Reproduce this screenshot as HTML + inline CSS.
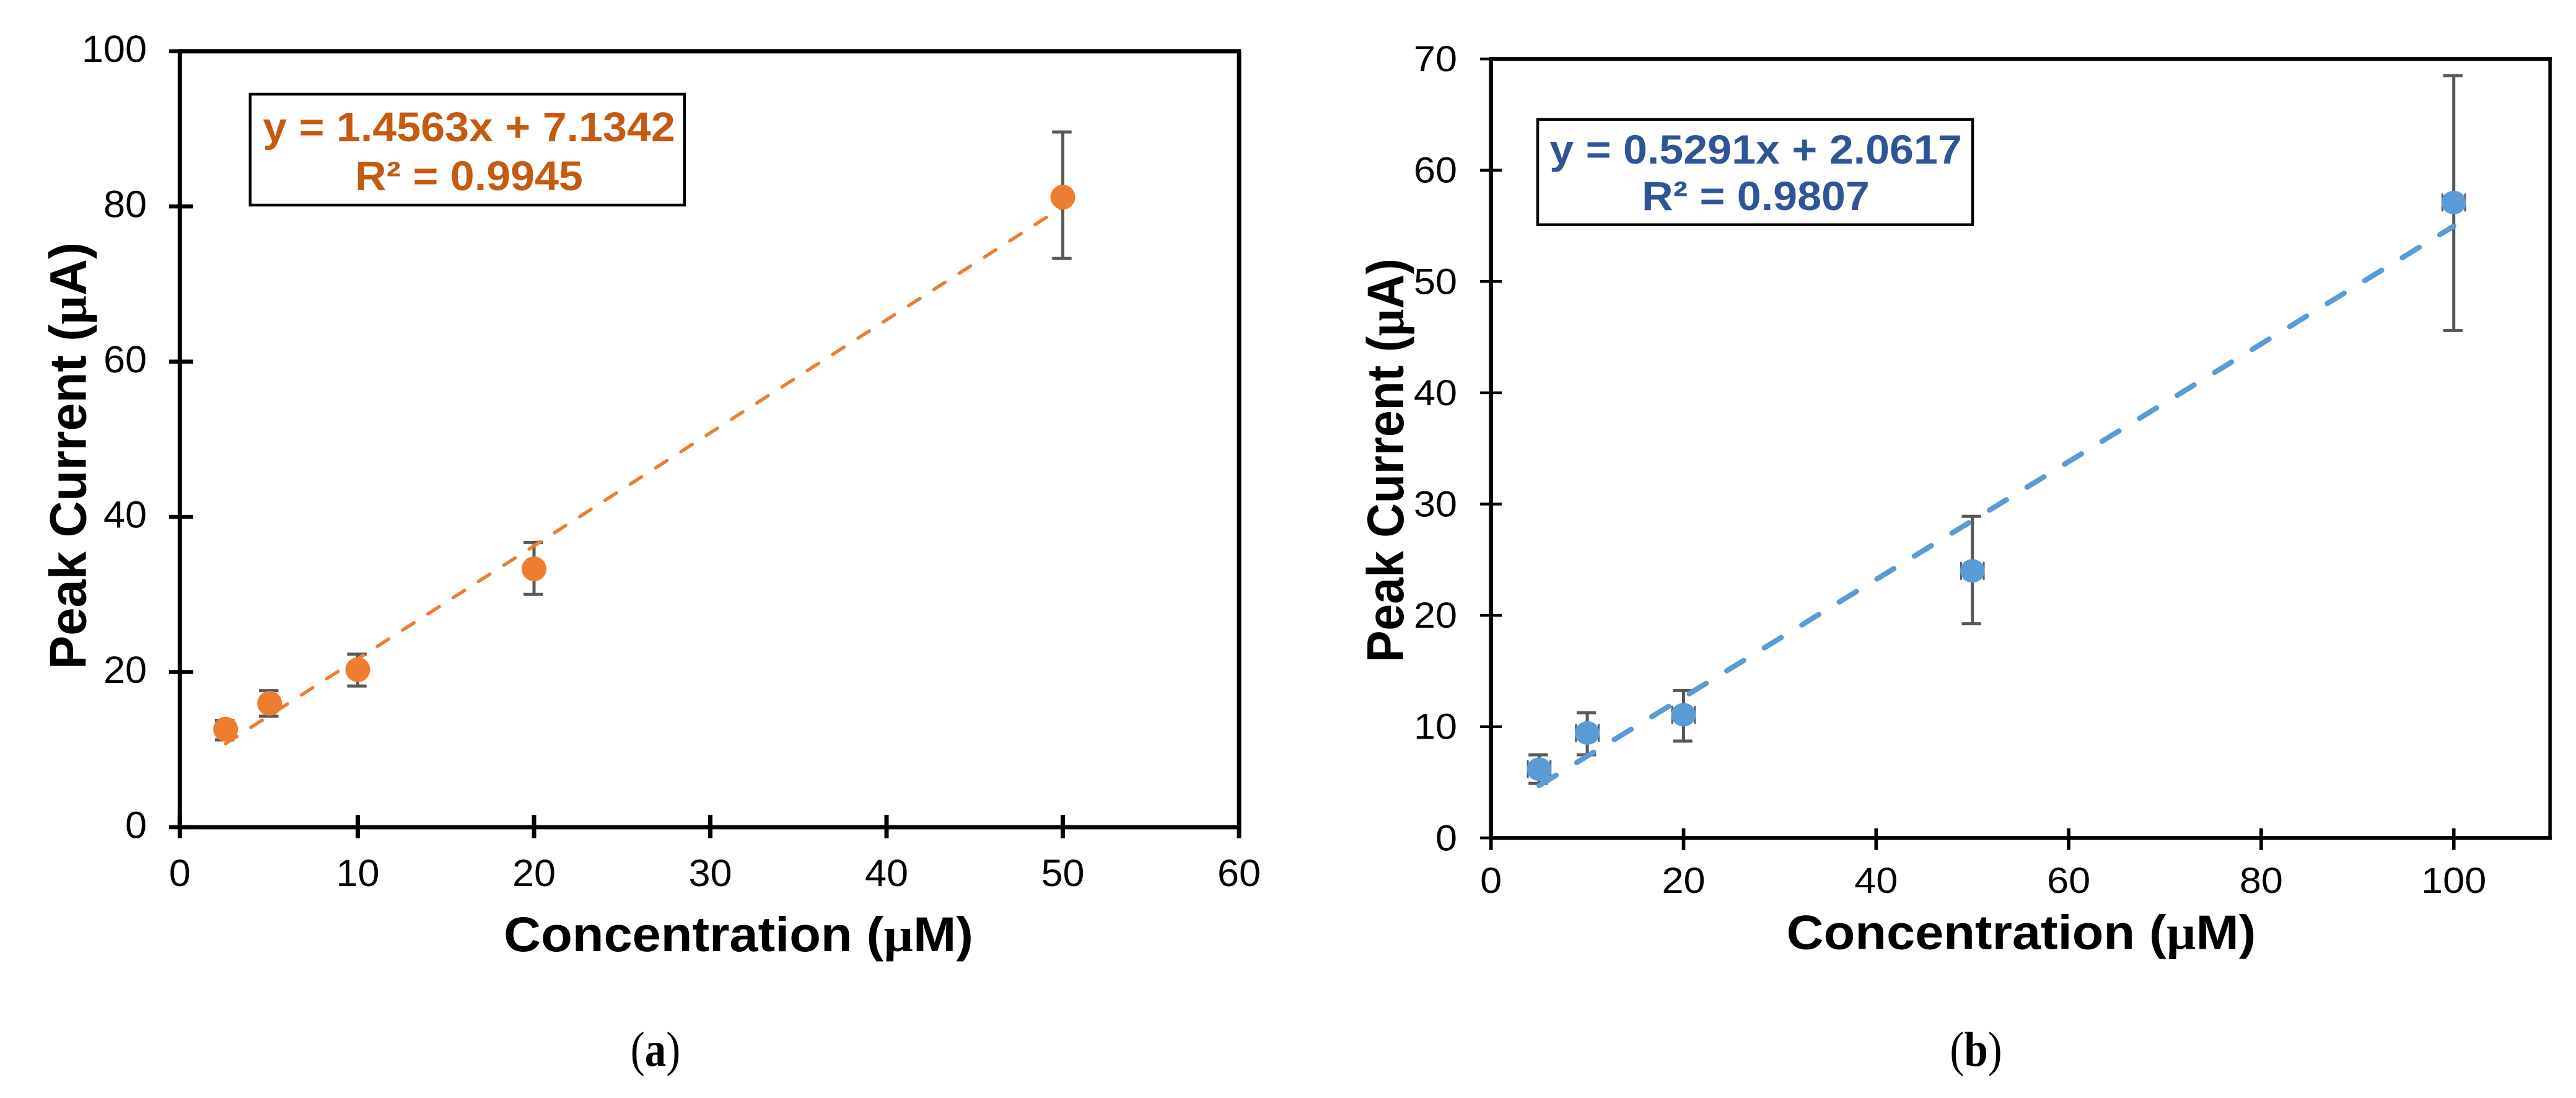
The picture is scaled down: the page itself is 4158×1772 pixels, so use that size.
<!DOCTYPE html>
<html lang="en">
<head>
<meta charset="utf-8">
<title>Peak current versus concentration calibration charts</title>
<style>
  html, body { margin: 0; padding: 0; background: #fff; }
  svg { display: block; }
  text { font-family: "Liberation Sans", Arial, sans-serif; }
  .serif { font-family: "Liberation Serif", "Times New Roman", serif; }
</style>
</head>
<body>
<svg id="figure" xmlns="http://www.w3.org/2000/svg" width="4158" height="1772" viewBox="0 0 4158 1772">
  <rect x="0" y="0" width="4158" height="1772" fill="#ffffff"/>

  <g id="panel-a"></g>
  <g id="panel-b"></g>

  <g>
    <rect x="403.8" y="152" width="701" height="179" fill="#ffffff" stroke="#000000" stroke-width="4.5"/>
    <text transform="translate(757 228) scale(1 0.95)" text-anchor="middle" font-size="70" font-weight="700" fill="#C55A11">y = 1.4563x + 7.1342</text>
    <text transform="translate(757 307) scale(1 0.95)" text-anchor="middle" font-size="70" font-weight="700" fill="#C55A11">R² = 0.9945</text>
  </g>
  <g>
    <rect x="2482" y="192.7" width="702" height="170" fill="#ffffff" stroke="#000000" stroke-width="4.5"/>
    <text transform="translate(2834 264) scale(1 0.94)" text-anchor="middle" font-size="70" font-weight="700" fill="#2F5597">y = 0.5291x + 2.0617</text>
    <text transform="translate(2834 339) scale(1 0.94)" text-anchor="middle" font-size="70" font-weight="700" fill="#2F5597">R² = 0.9807</text>
  </g>

  <text transform="translate(1192 1535) scale(1 0.95)" text-anchor="middle" font-size="83" font-weight="700" fill="#000">Concentration (<tspan class="serif" font-weight="700">µ</tspan>M)</text>
  <text transform="translate(138.3 735.5) rotate(-90) scale(1 1.03)" text-anchor="middle" font-size="81.4" font-weight="700" fill="#000">Peak Current (<tspan class="serif" font-weight="700">µ</tspan>A)</text>
  <text transform="translate(3262.5 1531.7) scale(1 0.94)" text-anchor="middle" font-size="83" font-weight="700" fill="#000">Concentration (<tspan class="serif" font-weight="700">µ</tspan>M)</text>
  <text transform="translate(2265 743) rotate(-90) scale(1 1.087)" text-anchor="middle" font-size="77" font-weight="700" fill="#000">Peak Current (<tspan class="serif" font-weight="700">µ</tspan>A)</text>

  <text class="serif" transform="translate(1058 1720) scale(1 1.15)" text-anchor="middle" font-size="69" fill="#000">(<tspan font-weight="700">a</tspan>)</text>
  <text class="serif" transform="translate(3189.5 1720) scale(1 1.15)" text-anchor="middle" font-size="69" fill="#000">(<tspan font-weight="700">b</tspan>)</text>
</svg>

<script>
// Panel (a) data
const concentrationA = [2.5, 5, 10, 20, 50];
const currentA = [12.64, 15.97, 20.3, 33.3, 81.2];
const errorPlusA = [1.13, 1.63, 2.0, 3.4, 8.4];
const errorMinusA = [1.38, 1.67, 2.1, 3.3, 7.9];
const xTicksA = [0, 10, 20, 30, 40, 50, 60];
const yTicksA = [0, 20, 40, 60, 80, 100];
const slopeA = 1.4563;
const interceptA = 7.1342;

// Panel (b) data
const concentrationB = [5, 10, 20, 50, 100];
const currentB = [6.18, 9.43, 11.07, 24, 57.1];
const errorPlusB = [1.29, 1.82, 2.18, 4.9, 11.4];
const errorMinusB = [1.28, 1.96, 2.37, 4.75, 11.5];
const xErrorB = [1.18, 1.18, 1.18, 1.18, 1.18];
const xTicksB = [0, 20, 40, 60, 80, 100];
const yTicksB = [0, 10, 20, 30, 40, 50, 60, 70];
const slopeB = 0.5291;
const interceptB = 2.0617;

const SVG_NS = 'http://www.w3.org/2000/svg';

function shape(parent, tag, props, name) {
  const el = document.createElementNS(SVG_NS, tag);
  Object.keys(props).forEach(function (k) { el.setAttribute(k, props[k]); });
  
  
  parent.appendChild(el);
  return el;
}

function hLine(parent, x1, x2, y, w, color, name) {
  return shape(parent, 'line', { x1: x1, x2: x2, y1: y, y2: y, stroke: color, 'stroke-width': w }, name);
}

function vLine(parent, x, y1, y2, w, color, name) {
  return shape(parent, 'line', { x1: x, x2: x, y1: y1, y2: y2, stroke: color, 'stroke-width': w }, name);
}

function drawPanel(opts) {
  const g = document.getElementById(opts.id);
  const xPos = function (v) { return opts.x0 + v * opts.xScale; };
  const yPos = function (v) { return opts.y0 - v * opts.yScale; };
  const frameRight = xPos(opts.xLimit);
  const frameTop = yPos(opts.yTicks[opts.yTicks.length - 1]);
  const frameBottom = yPos(0);

  // frame
  vLine(g, opts.frameLeft, frameTop, frameBottom, opts.spineW, '#000', 'y-axis-line');
  vLine(g, frameRight, frameTop, frameBottom, opts.rightW, '#000', 'right-border-line');
  hLine(g, opts.frameLeft - 3, frameRight + 3, frameTop, opts.topW, '#000', 'top-border-line');
  hLine(g, opts.frameLeft - 3, frameRight + 3, frameBottom, opts.bottomW, '#000', 'x-axis-line');

  // y ticks + labels
  opts.yTicks.forEach(function (v) {
    const py = yPos(v);
    hLine(g, opts.frameLeft - opts.yTickOut, opts.frameLeft + opts.yTickIn, py, opts.yTickW, '#000', 'y-axis-tick');
    const label = shape(g, 'text', {
      transform: 'translate(' + opts.yLabelRight + ' ' + (py + opts.yLabelDy) + ') scale(' + opts.labelSx + ' ' + opts.labelSy + ')',
      'text-anchor': 'end',
      'font-size': opts.labelSize,
      fill: '#000'
    }, 'y-axis-tick-label');
    label.textContent = String(v);
  });

  // x ticks + labels
  opts.xTicks.forEach(function (v) {
    const px = v === 0 ? opts.frameLeft : xPos(v);
    vLine(g, px, frameBottom - opts.xTickIn, frameBottom + opts.xTickOut, opts.xTickW, '#000', 'x-axis-tick');
    const label = shape(g, 'text', {
      transform: 'translate(' + px + ' ' + opts.xLabelBase + ') scale(' + opts.labelSx + ' ' + opts.labelSy + ')',
      'text-anchor': 'middle',
      'font-size': opts.labelSize,
      fill: '#000'
    }, 'x-axis-tick-label');
    label.textContent = String(v);
  });

  // error bars
  opts.xs.forEach(function (v, i) {
    const px = xPos(v);
    const top = yPos(opts.ys[i] + opts.plus[i]);
    const bottom = yPos(opts.ys[i] - opts.minus[i]);
    vLine(g, px, top, bottom, opts.errW, '#595959', 'error-bar-stem');
    hLine(g, px - 17.2, px + 14.2, top, opts.errW, '#595959', 'error-bar-cap-top');
    hLine(g, px - 17.2, px + 14.2, bottom, opts.errW, '#595959', 'error-bar-cap-bottom');
    if (opts.xErr) {
      const left = xPos(v - opts.xErr[i]);
      const right = xPos(v + opts.xErr[i]);
      const py = yPos(opts.ys[i]);
      hLine(g, left, right, py, 3, '#595959', 'x-error-bar-stem');
      vLine(g, left, py - 14.5, py + 14.5, 3, '#595959', 'x-error-bar-cap-left');
      vLine(g, right, py - 14.5, py + 14.5, 3, '#595959', 'x-error-bar-cap-right');
    }
  });

  // markers
  opts.xs.forEach(function (v, i) {
    shape(g, 'ellipse', { cx: xPos(v), cy: yPos(opts.ys[i]), rx: 20, ry: opts.markerRy, fill: opts.color }, 'data-point');
  });

  // trendline
  const xStart = opts.xs[0];
  const xEnd = opts.xs[opts.xs.length - 1];
  shape(g, 'line', {
    x1: xPos(xStart),
    y1: yPos(opts.slope * xStart + opts.intercept),
    x2: xPos(xEnd),
    y2: yPos(opts.slope * xEnd + opts.intercept),
    stroke: opts.color,
    'stroke-width': opts.trendW,
    'stroke-linecap': 'round',
    'stroke-dasharray': opts.dash
  }, 'trendline');
}

drawPanel({
  id: 'panel-a',
  xs: concentrationA, ys: currentA, plus: errorPlusA, minus: errorMinusA,
  xTicks: xTicksA, yTicks: yTicksA, xLimit: 60,
  slope: slopeA, intercept: interceptA,
  color: '#ED7D31', markerRy: 20,
  x0: 293, xScale: 28.45, y0: 1335, yScale: 12.523,
  frameLeft: 290.3, spineW: 7, rightW: 7, topW: 7, bottomW: 6.7,
  yTickOut: 17.3, yTickIn: 21.4, yTickW: 6.5,
  xTickIn: 20, xTickOut: 17.7, xTickW: 7,
  labelSize: 63, labelSx: 1.0, labelSy: 0.97,
  yLabelRight: 237, yLabelDy: 17.5, xLabelBase: 1430,
  errW: 5, trendW: 5.5, dash: '21.7 26.8'
});

drawPanel({
  id: 'panel-b',
  xs: concentrationB, ys: currentB, plus: errorPlusB, minus: errorMinusB, xErr: xErrorB,
  xTicks: xTicksB, yTicks: yTicksB, xLimit: 110,
  slope: slopeB, intercept: interceptB,
  color: '#5B9BD5', markerRy: 19,
  x0: 2406.7, xScale: 15.54, y0: 1352.3, yScale: 17.96,
  frameLeft: 2406.7, spineW: 6.7, rightW: 5.5, topW: 6, bottomW: 6.3,
  yTickOut: 17.7, yTickIn: 17.3, yTickW: 4.5,
  xTickIn: 15.6, xTickOut: 19.4, xTickW: 5.7,
  labelSize: 63, labelSx: 1.0, labelSy: 0.92,
  yLabelRight: 2352, yLabelDy: 20, xLabelBase: 1441,
  errW: 5, trendW: 8.5, dash: '32 39'
});
</script>
</body>
</html>
